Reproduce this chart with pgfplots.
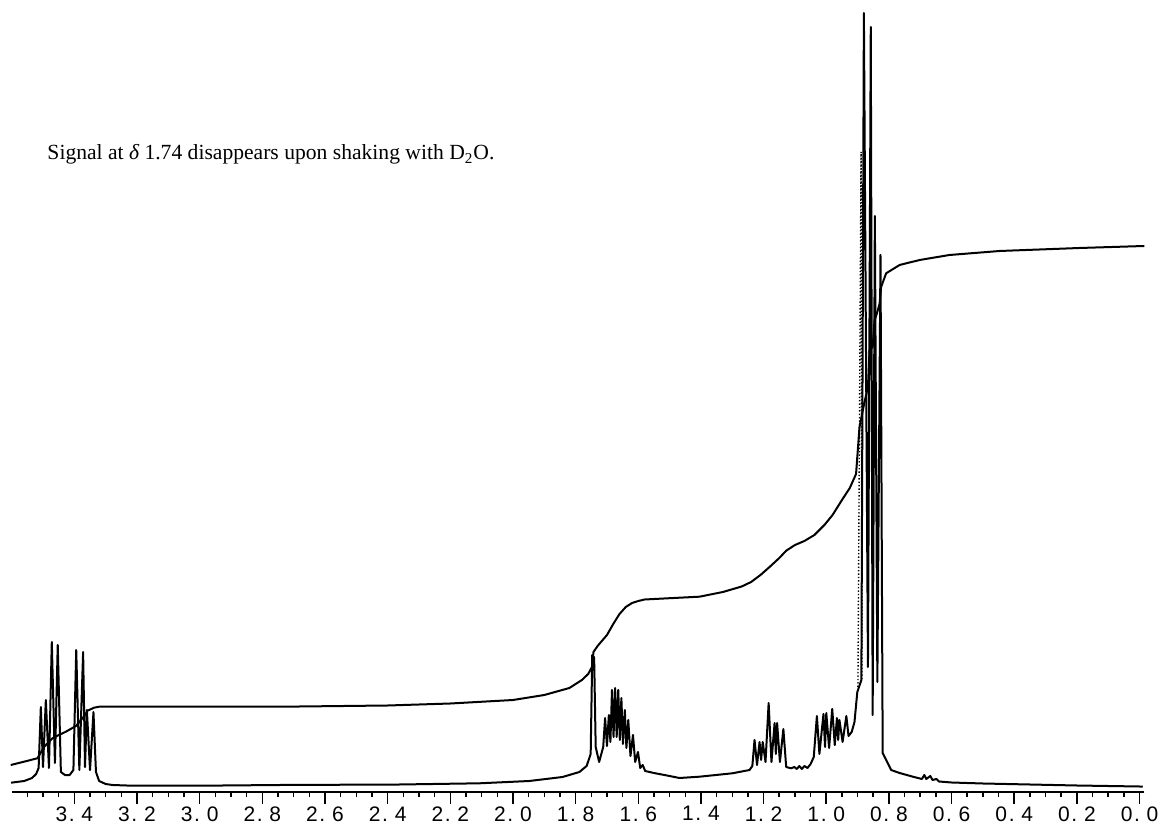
\documentclass[border=0pt]{standalone}
\usepackage{fontspec}
\setmainfont{Liberation Serif}
\newfontfamily\ticksans{Liberation Sans}
\usepackage{pgfplots}
\pgfplotsset{compat=1.18}
\newcommand{\tl}[2]{#1\kern0.8pt.\kern3.4pt #2}
\begin{document}
\begin{tikzpicture}
\useasboundingbox (0,0) rectangle (580.5pt,415pt);
\begin{axis}[
  at={(5.85pt,19pt)}, anchor=south west,
  scale only axis, width=566.3pt, height=396pt,
  x dir=reverse, xmin=-0.015, xmax=3.6, ymin=0, ymax=792,
  axis x line=bottom, axis y line=none, ytick=\empty,
  axis line style={black, line width=0.9pt, -},
  xtick={0,0.2,...,3.41},
  xticklabels={\tl00,\tl02,\tl04,\tl06,\tl08,\tl10,\tl12,\tl14,\tl16,\tl18,\tl20,\tl22,\tl24,\tl26,\tl28,\tl30,\tl32,\tl34},
  minor xtick={0,0.05,...,3.56},
  tick align=outside,
  major tick length=6pt, minor tick length=2.5pt,
  every tick/.style={black, line width=0.8pt},
  xticklabel style={font=\ticksans\fontsize{10.5pt}{12pt}\selectfont, inner sep=1pt},
  clip=false,
]
\addplot[black, line width=1pt, line join=round] coordinates {
(3.602,9.3) (3.56,11) (3.535,14) (3.522,18) (3.514,24) (3.507,85) (3.500,25)
(3.491,92) (3.481,24) (3.472,150) (3.462,29) (3.453,147) (3.443,20) (3.43,17)
(3.415,17) (3.403,22) (3.394,142) (3.384,22) (3.372,140) (3.366,25) (3.360,82)
(3.350,22) (3.339,80) (3.331,20) (3.321,11) (3.30,8) (3.278,7) (3.215,6.3)
(3.0,6.3) (2.746,7) (2.363,7.5) (2.107,8.7) (1.948,11) (1.842,15) (1.788,20)
(1.765,26) (1.752,38) (1.747,137) (1.744,130) (1.741,135) (1.736,45) (1.725,30)
(1.712,45) (1.706,74) (1.700,46) (1.694,77) (1.689,50) (1.684,102) (1.679,55)
(1.674,104) (1.669,55) (1.664,102) (1.659,52) (1.654,94) (1.649,48) (1.643,82)
(1.638,44) (1.632,72) (1.625,36) (1.617,57) (1.610,30) (1.601,40) (1.594,24)
(1.586,27) (1.578,21) (1.55,19) (1.50,16) (1.469,14) (1.405,15.3) (1.30,18.7)
(1.245,22) (1.236,26) (1.229,52) (1.221,27) (1.213,50) (1.208,32) (1.203,50)
(1.194,30) (1.184,89) (1.175,30) (1.165,69) (1.161,38) (1.157,69) (1.148,30)
(1.137,63) (1.128,25) (1.112,23.7) (1.102,25) (1.094,23) (1.086,26) (1.078,23)
(1.070,26) (1.060,24) (1.050,28) (1.040,35) (1.030,76) (1.022,38) (1.009,78)
(1.004,45) (1.000,79) (0.991,44) (0.981,83) (0.973,47) (0.966,74) (0.962,52)
(0.958,72) (0.948,50) (0.936,76) (0.929,56) (0.919,60) (0.910,70) (0.901,100)
(0.888,112) (0.880,779) (0.867,125) (0.858,765) (0.852,77)
(0.845,576) (0.837,110) (0.827,537) (0.820,39) (0.809,32) (0.793,22) (0.766,19)
(0.72,15) (0.695,13) (0.687,17) (0.681,13) (0.668,16) (0.661,12) (0.648,13)
(0.640,10.5) (0.60,9.5) (0.50,8.5) (0.35,7.5) (0.20,6.5) (0.0,5.5) (-0.01,5.3)
};
\addplot[black, line width=0.7pt, densely dotted] coordinates {
(0.899,105) (0.889,640) (0.886,112)
};
\addplot[black, line width=1pt, line join=round] coordinates {
(3.603,27) (3.518,33.7) (3.496,45.3) (3.470,53.7) (3.454,56.3) (3.427,60.3)
(3.395,66) (3.368,76) (3.358,81.3) (3.337,84.3) (3.321,85.3) (3.0,85.5)
(2.682,85.5) (2.4,86.5) (2.2,88.5) (2.0,92) (1.9,97) (1.82,104) (1.78,112)
(1.76,118) (1.748,125) (1.743,140) (1.73,146) (1.70,157) (1.68,168) (1.66,178)
(1.64,185) (1.62,189) (1.60,191) (1.58,192.5) (1.50,193.8) (1.405,195.3)
(1.33,200) (1.27,205.5) (1.24,210) (1.21,217) (1.18,225.3) (1.15,234)
(1.128,241.3) (1.10,247) (1.07,251) (1.038,257) (1.006,267) (0.98,277)
(0.95,292) (0.925,304) (0.905,318)
(0.894,365) (0.878,390) (0.867,405) (0.862,442) (0.852,445) (0.846,472)
(0.841,476) (0.830,488) (0.825,505) (0.809,518.7) (0.766,527) (0.702,532)
(0.607,537) (0.447,541) (0.192,544) (-0.015,546)
};
\node[anchor=base west, font=\fontsize{10.8pt}{13pt}\selectfont, inner sep=0pt]
  at (axis cs:3.487,632) {Signal at {\itshape δ} 1.74 disappears upon shaking with D\textsubscript{2}O.};
\end{axis}
\end{tikzpicture}
\end{document}
